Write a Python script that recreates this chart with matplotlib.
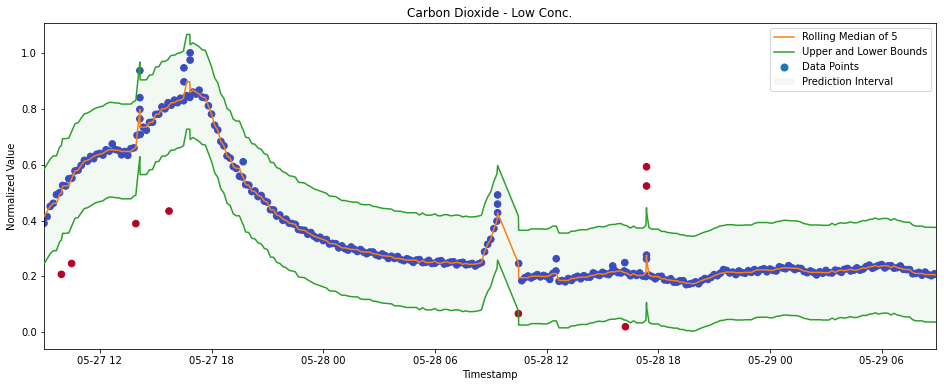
import numpy as np
import pandas as pd
import matplotlib
matplotlib.use("Agg")
import matplotlib.pyplot as plt
import matplotlib.dates as mdates
from matplotlib.patches import Patch
from matplotlib.lines import Line2D

# regular readings every 10 min, before and after the gap on 05-28 morning
start_1 = "2020-05-27 09:00"
values_1 = [
    0.390, 0.414, 0.451, 0.462, 0.493, 0.500,
    0.526, 0.524, 0.550, 0.552, 0.578, 0.581,
    0.598, 0.616, 0.613, 0.630, 0.622, 0.638,
    0.641, 0.635, 0.654, 0.649, 0.675, 0.655,
    0.652, 0.636, 0.648, 0.634, 0.658, 0.661,
    0.706, 0.709, 0.735, 0.724, 0.752, 0.753,
    0.781, 0.782, 0.808, 0.801, 0.823, 0.814,
    0.832, 0.823, 0.839, 0.830, 0.848, 0.842,
    0.861, 0.854, 0.868, 0.843, 0.841, 0.812,
    0.782, 0.742, 0.725, 0.684, 0.668, 0.632,
    0.624, 0.594, 0.587, 0.559, 0.556, 0.529,
    0.527, 0.504, 0.506, 0.486, 0.490, 0.470,
    0.466, 0.439, 0.438, 0.416, 0.420, 0.401,
    0.405, 0.391, 0.389, 0.386, 0.368, 0.366,
    0.365, 0.351, 0.357, 0.344, 0.336, 0.340,
    0.328, 0.332, 0.316, 0.318, 0.317, 0.302,
    0.309, 0.299, 0.294, 0.305, 0.297, 0.289,
    0.296, 0.287, 0.281, 0.287, 0.287, 0.277,
    0.273, 0.280, 0.274, 0.264, 0.272, 0.264,
    0.271, 0.260, 0.256, 0.263, 0.258, 0.250,
    0.258, 0.260, 0.249, 0.250, 0.257, 0.246,
    0.247, 0.254, 0.256, 0.244, 0.247, 0.251,
    0.252, 0.241, 0.248, 0.250, 0.241, 0.243,
    0.246, 0.237, 0.244, 0.249, 0.288, 0.315,
    0.333, 0.371, 0.398,
]

start_2 = "2020-05-28 10:30"
values_2 = [
    0.246, 0.184, 0.195,
    0.201, 0.194, 0.200, 0.206, 0.198, 0.203,
    0.199, 0.189, 0.210, 0.219, 0.182, 0.185,
    0.180, 0.192, 0.185, 0.195, 0.200, 0.191,
    0.202, 0.197, 0.197, 0.212, 0.207, 0.203,
    0.214, 0.209, 0.206, 0.216, 0.220, 0.213,
    0.212, 0.219, 0.213, 0.202, 0.210, 0.203,
    0.212, 0.201, 0.199, 0.204, 0.199, 0.191,
    0.199, 0.200, 0.187, 0.186, 0.191, 0.179,
    0.179, 0.184, 0.184, 0.170, 0.172, 0.175,
    0.180, 0.173, 0.185, 0.192, 0.189, 0.196,
    0.206, 0.202, 0.211, 0.224, 0.221, 0.212,
    0.215, 0.206, 0.219, 0.213, 0.211, 0.220,
    0.214, 0.224, 0.214, 0.223, 0.227, 0.216,
    0.226, 0.221, 0.219, 0.234, 0.230, 0.227,
    0.238, 0.231, 0.224, 0.229, 0.228, 0.217,
    0.213, 0.219, 0.214, 0.205, 0.216, 0.211,
    0.221, 0.213, 0.212, 0.222, 0.220, 0.214,
    0.225, 0.228, 0.219, 0.222, 0.230, 0.222,
    0.226, 0.235, 0.240, 0.229, 0.234, 0.239,
    0.242, 0.230, 0.237, 0.238, 0.229, 0.231,
    0.237, 0.225, 0.224, 0.224, 0.209, 0.210,
    0.214, 0.204, 0.215, 0.206, 0.202, 0.209,
    0.205,
]

# off-trend readings
extra_times = [
    "2020-05-27 09:56", "2020-05-27 10:29", "2020-05-27 13:56",
    "2020-05-27 14:09", "2020-05-27 14:09", "2020-05-27 14:09", "2020-05-27 14:09",
    "2020-05-27 15:43",
    "2020-05-27 16:31", "2020-05-27 16:31", "2020-05-27 16:51", "2020-05-27 16:51",
    "2020-05-27 19:42",
    "2020-05-28 09:22", "2020-05-28 09:22", "2020-05-28 09:22",
    "2020-05-28 10:29", "2020-05-28 12:31", "2020-05-28 15:33",
    "2020-05-28 16:12", "2020-05-28 16:14",
    "2020-05-28 17:22", "2020-05-28 17:22", "2020-05-28 17:22", "2020-05-28 17:22",
]
extra_values = [
    0.207, 0.246, 0.389,
    0.938, 0.841, 0.799, 0.765,
    0.434,
    0.948, 0.898, 1.002, 0.976,
    0.611,
    0.492, 0.459, 0.428,
    0.066, 0.263, 0.237,
    0.249, 0.019,
    0.593, 0.524, 0.276, 0.262,
]

window = 5
band = 0.17

t1 = pd.date_range(start_1, periods=len(values_1), freq="10min")
t2 = pd.date_range(start_2, periods=len(values_2), freq="10min")
df = pd.DataFrame({
    "t": list(t1) + list(t2) + list(pd.to_datetime(extra_times)),
    "v": values_1 + values_2 + extra_values,
})
df = df.sort_values("t", kind="stable").reset_index(drop=True)

df["med"] = df["v"].rolling(window, center=True, min_periods=1).median()
df["upper"] = df["med"] + band
df["lower"] = df["med"] - band
df["anom"] = ((df["v"] > df["upper"]) | (df["v"] < df["lower"])).astype(int)

fig = plt.figure(figsize=(944 / 72, 387 / 72), dpi=72)
ax = fig.add_axes([44 / 944, 38 / 387, 892 / 944, 326 / 387])

ax.fill_between(df["t"], df["lower"], df["upper"], color="tab:green", alpha=0.06, lw=0)
ax.scatter(df["t"], df["v"], c=df["anom"], cmap="coolwarm", vmin=0, vmax=1, s=44, zorder=2)
ax.plot(df["t"], df["med"], color="tab:orange", lw=1.5, zorder=3)
ax.plot(df["t"], df["upper"], color="tab:green", lw=1.5, zorder=3)
ax.plot(df["t"], df["lower"], color="tab:green", lw=1.5, zorder=3)

ax.set_xlim(pd.Timestamp("2020-05-27 09:00"), pd.Timestamp("2020-05-29 08:55"))
ax.set_ylim(-0.061, 1.109)
ax.xaxis.set_major_locator(mdates.HourLocator(byhour=[0, 6, 12, 18]))
ax.xaxis.set_major_formatter(mdates.DateFormatter("%m-%d %H"))

ax.set_title("Carbon Dioxide - Low Conc.", fontsize=12)
ax.set_xlabel("Timestamp")
ax.set_ylabel("Normalized Value")

handles = [
    Line2D([], [], color="tab:orange", lw=1.5),
    Line2D([], [], color="tab:green", lw=1.5),
    Line2D([], [], color="tab:blue", marker="o", ls="none", markersize=7),
    Patch(facecolor="tab:green", alpha=0.06),
]
labels = ["Rolling Median of 5", "Upper and Lower Bounds", "Data Points", "Prediction Interval"]
ax.legend(handles, labels, loc="upper right")

fig.savefig("out.png", dpi=72)
